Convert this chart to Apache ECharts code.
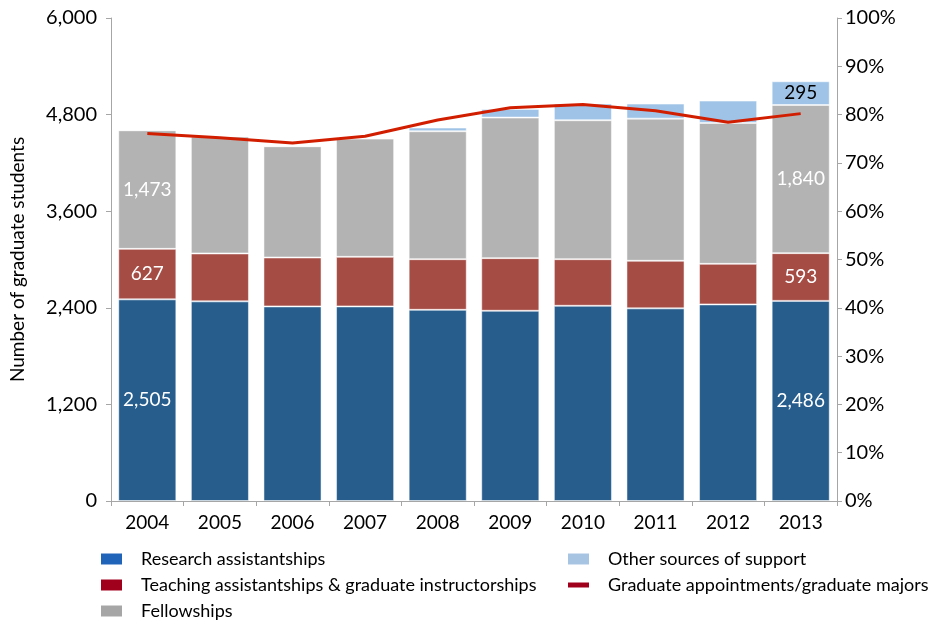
<!DOCTYPE html>
<html>
<head>
<meta charset="utf-8">
<script src="https://cdn.jsdelivr.net/npm/echarts@6/dist/echarts.min.js"></script>
<style>html,body{margin:0;padding:0;background:#fff;}#c{width:935px;height:621px;}</style>
</head>
<body>
<div id="c"></div>
<script>
const years = ['2004','2005','2006','2007','2008','2009','2010','2011','2012','2013'];
const research = [2505, 2480, 2417, 2417, 2375, 2363, 2425, 2393, 2442, 2486];
const teaching = [627, 595, 608, 616, 629, 654, 579, 591, 504, 593];
const fellowships = [1473, 1452, 1382, 1469, 1589, 1746, 1726, 1766, 1750, 1840];
const other = [0, 0, 0, 0, 46, 107, 207, 187, 278, 295];
const ratio = [76.1, 75.2, 74.1, 75.5, 78.9, 81.4, 82.1, 80.8, 78.4, 80.2];
const leftTicks = [0, 1200, 2400, 3600, 4800, 6000];
const rightTicks = [0, 10, 20, 30, 40, 50, 60, 70, 80, 90, 100];

const FONT = 'Lato';
const fmt = v => v.toLocaleString('en-US');
const lastIdx = years.length - 1;

function labelled(arr, color, idxs) {
  return arr.map((v, i) => idxs.includes(i) ? {
    value: v,
    label: { show: true, position: 'inside', color: color, fontSize: 19, fontFamily: FONT, formatter: p => fmt(p.value) }
  } : v);
}

const barBase = { type: 'bar', stack: 'total', barWidth: '80%', yAxisIndex: 0 };
const edge = { borderColor: 'rgba(255,255,255,0.5)', borderWidth: 1 };
const legendText = { color: '#000', fontSize: 18, fontFamily: FONT, padding: [0, 0, 0, 14] };

const chart = echarts.init(document.getElementById('c'));
chart.setOption({
  animation: false,
  textStyle: { fontFamily: FONT },
  grid: { left: 107, right: 98, top: 18, bottom: 120 },
  xAxis: {
    type: 'category', data: years,
    axisLine: { lineStyle: { color: '#A6A6A6', width: 1 } },
    axisTick: { show: true, length: 5, lineStyle: { color: '#A6A6A6' } },
    axisLabel: { color: '#000', fontSize: 19, fontFamily: FONT, margin: 12 }
  },
  yAxis: [{
    type: 'value', min: 0, max: 6000, interval: 1200,
    name: 'Number of graduate students', nameLocation: 'middle', nameGap: 84,
    nameTextStyle: { color: '#000', fontSize: 19, fontFamily: FONT },
    axisLine: { show: true, lineStyle: { color: '#A6A6A6' } },
    axisTick: { show: true, length: 5, lineStyle: { color: '#A6A6A6' } },
    splitLine: { show: false },
    axisLabel: { color: '#000', fontSize: 20, fontFamily: FONT, margin: 14, formatter: v => fmt(v) }
  }, {
    type: 'value', min: 0, max: 100, interval: 10, position: 'right',
    axisLine: { show: true, lineStyle: { color: '#A6A6A6' } },
    axisTick: { show: true, length: 5, lineStyle: { color: '#A6A6A6' } },
    splitLine: { show: false },
    axisLabel: { color: '#000', fontSize: 20, fontFamily: FONT, margin: 8, formatter: v => v + '%' }
  }],
  legend: [{
    left: 96, top: 545, height: 100, orient: 'vertical', itemGap: 8, itemWidth: 21, itemHeight: 11,
    icon: 'rect', textStyle: legendText,
    data: [
      { name: 'Research assistantships', itemStyle: { color: '#2064BA', borderWidth: 0 } },
      { name: 'Teaching assistantships & graduate instructorships', itemStyle: { color: '#A0001C', borderWidth: 0 } },
      { name: 'Fellowships', itemStyle: { color: '#A6A6A6', borderWidth: 0 } }
    ]
  }, {
    left: 563, top: 545, orient: 'vertical', itemWidth: 21, itemHeight: 11, icon: 'rect',
    textStyle: legendText,
    data: [{ name: 'Other sources of support', itemStyle: { color: '#A8C4E3', borderWidth: 0 } }]
  }, {
    left: 563, top: 571, orient: 'vertical', itemWidth: 21, itemHeight: 5, icon: 'rect',
    textStyle: legendText,
    data: [{ name: 'Graduate appointments/graduate majors', itemStyle: { color: '#A0001C', borderWidth: 0 } }]
  }],
  series: [
    Object.assign({}, barBase, { name: 'Research assistantships', itemStyle: Object.assign({ color: '#265D8D' }, edge), data: labelled(research, '#fff', [0, lastIdx]) }),
    Object.assign({}, barBase, { name: 'Teaching assistantships & graduate instructorships', itemStyle: Object.assign({ color: '#A54C45' }, edge), data: labelled(teaching, '#fff', [0, lastIdx]) }),
    Object.assign({}, barBase, { name: 'Fellowships', itemStyle: Object.assign({ color: '#B3B3B3' }, edge), data: labelled(fellowships, '#fff', [0, lastIdx]) }),
    Object.assign({}, barBase, { name: 'Other sources of support', itemStyle: Object.assign({ color: '#9FC3E7' }, edge), data: labelled(other, '#000', [lastIdx]) }),
    {
      name: 'Graduate appointments/graduate majors', type: 'line', yAxisIndex: 1,
      data: ratio, symbol: 'none', lineStyle: { color: '#D21E00', width: 3 }, itemStyle: { color: '#D21E00' }, z: 5
    }
  ]
});
</script>
</body>
</html>
